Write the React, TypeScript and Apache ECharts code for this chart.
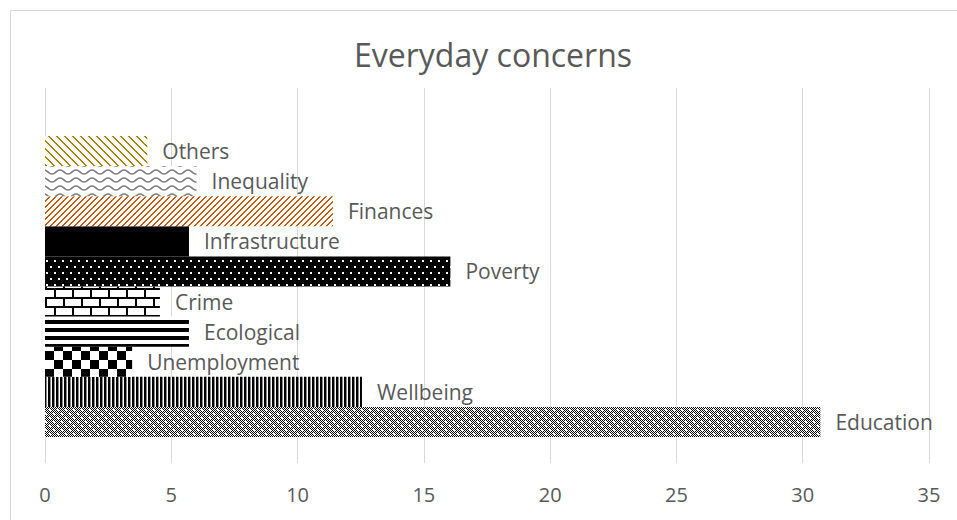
import React, { useEffect, useRef } from "react";
import * as echarts from "echarts";

const categories = [
  "Education",
  "Wellbeing",
  "Unemployment",
  "Ecological",
  "Crime",
  "Poverty",
  "Infrastructure",
  "Finances",
  "Inequality",
  "Others",
];
const values = [30.7, 12.55, 3.45, 5.7, 4.55, 16.05, 5.7, 11.4, 6.0, 4.05];
const xTicks = [0, 5, 10, 15, 20, 25, 30, 35];
const titleText = "Everyday concerns";

function tile(w: number, h: number, draw: (c: CanvasRenderingContext2D) => void) {
  const cv = document.createElement("canvas");
  cv.width = w;
  cv.height = h;
  const c = cv.getContext("2d")!;
  c.fillStyle = "#ffffff";
  c.fillRect(0, 0, w, h);
  draw(c);
  return { image: cv, repeat: "repeat" } as any;
}

function makePatterns() {
  const diagBack = (color: string) =>
    tile(8, 8, (c) => {
      c.fillStyle = color;
      for (let y = 0; y < 8; y++) {
        c.fillRect(y % 8, y, 2, 1);
        if (y === 7) c.fillRect(0, y, 1, 1);
      }
    });
  const diagFwd = (color: string) =>
    tile(6, 6, (c) => {
      c.fillStyle = color;
      for (let y = 0; y < 6; y++) {
        const x = (5 - y + 6) % 6;
        c.fillRect(x, y, 2, 1);
        if (x === 5) c.fillRect(0, y, 1, 1);
      }
    });
  const wave = tile(16, 8, (c) => {
    c.strokeStyle = "#7f7f7f";
    c.lineWidth = 1.6;
    c.beginPath();
    for (let x = -1; x <= 17; x += 0.5) {
      const y = 4 + 2 * Math.sin((2 * Math.PI * x) / 16);
      if (x === -1) c.moveTo(x, y);
      else c.lineTo(x, y);
    }
    c.stroke();
  });
  const dots = tile(8, 12, (c) => {
    c.fillStyle = "#000";
    c.fillRect(0, 0, 8, 12);
    c.fillStyle = "#fff";
    c.fillRect(2, 2, 2, 2);
    c.fillRect(6, 8, 2, 2);
  });
  const brick = tile(18, 18, (c) => {
    c.fillStyle = "#000";
    c.fillRect(0, 0, 18, 2);
    c.fillRect(0, 9, 18, 2);
    c.fillRect(0, 0, 2, 9);
    c.fillRect(9, 9, 2, 9);
  });
  const hstripes = tile(1, 8, (c) => {
    c.fillStyle = "#000";
    c.fillRect(0, 0, 1, 4);
  });
  const vstripes = tile(4, 1, (c) => {
    c.fillStyle = "#000";
    c.fillRect(0, 0, 2, 1);
    c.fillStyle = "#8a8a8a";
    c.fillRect(2, 0, 1, 1);
  });
  const checker = tile(18, 18, (c) => {
    c.fillStyle = "#000";
    c.fillRect(0, 0, 9, 9);
    c.fillRect(9, 9, 9, 9);
  });
  const fine = tile(8, 8, (c) => {
    c.fillStyle = "#000";
    for (let y = 0; y < 8; y++)
      for (let x = 0; x < 8; x++) if ((x + y) % 2 === 0) c.fillRect(x, y, 1, 1);
    c.fillStyle = "#fff";
    c.fillRect(1, 1, 2, 2);
    c.fillRect(5, 5, 2, 2);
  });
  return {
    Education: fine,
    Wellbeing: vstripes,
    Unemployment: checker,
    Ecological: hstripes,
    Crime: brick,
    Poverty: dots,
    Infrastructure: "#000000",
    Finances: diagFwd("#c55a11"),
    Inequality: wave,
    Others: diagBack("#ad8600"),
  } as Record<string, any>;
}

export default function App() {
  const ref = useRef<HTMLDivElement>(null);
  useEffect(() => {
    document.body.style.margin = "0";
    const chart = echarts.init(ref.current!, null, { renderer: "svg" });
    const pats = makePatterns();
    const font = "'Open Sans', 'Noto Sans', sans-serif";
    chart.setOption({
      animation: false,
      backgroundColor: "#ffffff",
      title: {
        text: titleText,
        left: 488,
        top: 33,
        textAlign: "center",
        textStyle: { fontFamily: font, fontSize: 32, fontWeight: "normal", color: "#595959" },
      },
      graphic: [
        {
          type: "rect",
          shape: { x: 10.5, y: 10.5, width: 1200, height: 1200 },
          style: { fill: "none", stroke: "#d9d9d9", lineWidth: 1 },
          silent: true,
        },
      ],
      grid: [
        { left: 45, right: 28, top: 88, bottom: 57 },
        { left: 45, right: 28, top: 136, bottom: 83 },
      ],
      xAxis: [
        {
          gridIndex: 0,
          type: "value",
          min: xTicks[0],
          max: xTicks[xTicks.length - 1],
          interval: 5,
          axisLine: { show: false },
          axisTick: { show: false },
          splitLine: { show: true, lineStyle: { color: "#d9d9d9", width: 1 } },
          axisLabel: { fontFamily: font, fontSize: 20, color: "#595959", margin: 21 },
        },
        {
          gridIndex: 1,
          type: "value",
          min: xTicks[0],
          max: xTicks[xTicks.length - 1],
          show: false,
        },
      ],
      yAxis: [
        { gridIndex: 0, type: "category", data: [""], show: false },
        { gridIndex: 1, type: "category", data: categories, show: false },
      ],
      series: [
        {
          type: "bar",
          xAxisIndex: 1,
          yAxisIndex: 1,
          barCategoryGap: 0,
          data: values.map((v, i) => ({
            value: v,
            itemStyle: { color: pats[categories[i]] },
          })),
          label: {
            show: true,
            position: "right",
            distance: 15,
            formatter: "{b}",
            fontFamily: font,
            fontSize: 21,
            color: "#595959",
          },
        },
      ],
    });
    return () => chart.dispose();
  }, []);
  return <div ref={ref} style={{ width: 957, height: 520 }} />;
}
